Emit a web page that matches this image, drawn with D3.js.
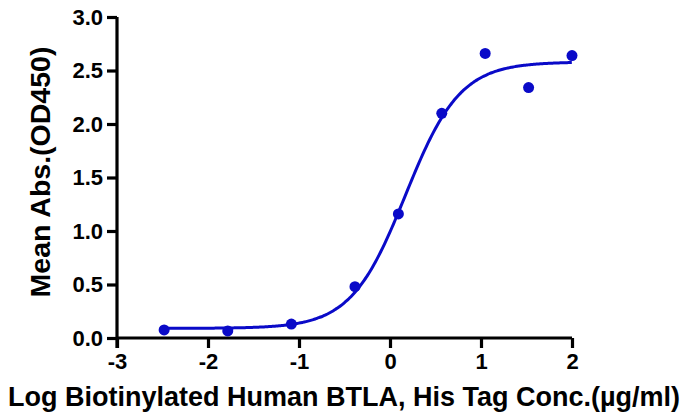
<!DOCTYPE html>
<html><head><meta charset="utf-8">
<script src="https://cdn.jsdelivr.net/npm/d3@7"></script>
<style>body{margin:0;background:#fff}svg{display:block}text{font-family:"Liberation Sans",Arial,sans-serif;font-weight:bold}.tick text{font-size:22px}</style>
</head><body><svg id="c" width="680" height="414"></svg>
<script>
const logConc = [-2.482, -1.783, -1.084, -0.385, 0.092, 0.569, 1.046, 1.523, 2.0];
const meanAbs = [0.075, 0.066, 0.13, 0.48, 1.16, 2.10, 2.66, 2.34, 2.64];
const xTicks = [-3, -2, -1, 0, 1, 2];
const yTicks = [0, 0.5, 1.0, 1.5, 2.0, 2.5, 3.0];
// 4PL fit parameters
const fitBottom = 0.09, fitTop = 2.58, fitLogEC50 = 0.17, fitHill = 1.45;

const svg = d3.select("#c");
const x = d3.scaleLinear().domain([-3, 2]).range([117, 572]);
const y = d3.scaleLinear().domain([0, 3]).range([338, 17]);
const blue = "#0a0ac8";

const xa = svg.append("g").attr("transform", "translate(0,338)")
  .call(d3.axisBottom(x).tickValues(xTicks).tickSize(10).tickPadding(5).tickFormat(d => String(d)));
const ya = svg.append("g").attr("transform", "translate(117,0)")
  .call(d3.axisLeft(y).tickValues(yTicks).tickSize(10).tickPadding(4).tickFormat(d3.format(".1f")));
[xa, ya].forEach(a => {
  a.attr("font-size", 22);
  a.select(".domain").attr("stroke", "#000").attr("stroke-width", 3.2);
  a.selectAll(".tick line").attr("stroke", "#000").attr("stroke-width", 3.2);
  a.selectAll(".tick text").attr("fill", "#000");
});
xa.select(".domain").attr("d", `M${x(-3)},0H${x(2)}`);
ya.select(".domain").attr("d", `M0,${y(3)}V${y(0) + 10}`);

const fit = v => fitBottom + (fitTop - fitBottom) / (1 + Math.pow(10, fitHill * (fitLogEC50 - v)));
const curveX = d3.range(-2.482, 2.0001, 0.02);
svg.append("path").datum(curveX)
  .attr("fill", "none").attr("stroke", blue).attr("stroke-width", 3)
  .attr("d", d3.line().x(d => x(d)).y(d => y(fit(d))).curve(d3.curveBasis));

svg.append("g").selectAll("circle").data(logConc).join("circle")
  .attr("cx", d => x(d)).attr("cy", (d, i) => y(meanAbs[i])).attr("r", 5.5).attr("fill", blue);

svg.append("text").attr("x", 344).attr("y", 406).attr("text-anchor", "middle")
  .style("font-size", "27px").text("Log Biotinylated Human BTLA, His Tag Conc.(µg/ml)");
svg.append("text").attr("transform", "translate(50,172) rotate(-90)").attr("text-anchor", "middle")
  .style("font-size", "28.5px").text("Mean Abs.(OD450)");
</script></body></html>
